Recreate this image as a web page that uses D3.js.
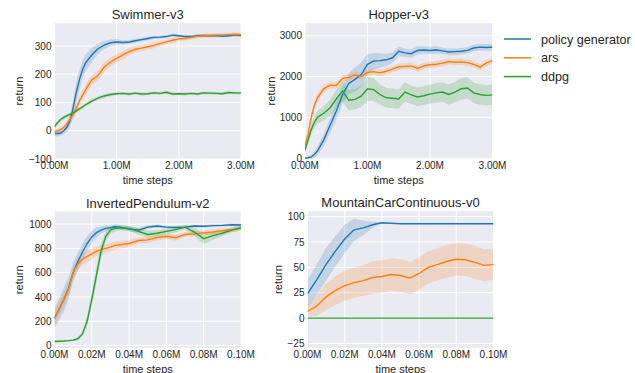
<!DOCTYPE html>
<html>
<head>
<meta charset="utf-8">
<script src="https://cdnjs.cloudflare.com/ajax/libs/d3/7.8.5/d3.min.js"></script>
<style>
  body { margin: 0; background: #fff; }
  svg { display: block; font-family: "Liberation Sans", Arial, sans-serif; }
</style>
</head>
<body>
<div id="chart"></div>
<script>
// series names shared by all panels
var seriesNames = ["policy generator", "ars", "ddpg"];
var seriesColors = ["#1f77b4", "#ff7f0e", "#2ca02c"];

// ---- Swimmer-v3 (x in millions of steps)
var swimX = [0,0.05,0.1,0.15,0.2,0.25,0.3,0.35,0.4,0.45,0.5,0.6,0.7,0.8,0.9,1.0,1.1,1.2,1.3,1.4,1.5,1.6,1.7,1.8,1.9,2.0,2.1,2.2,2.3,2.4,2.5,2.6,2.7,2.8,2.9,3.0];
var swimPG = [-10,-10,-8,0,12,35,80,135,180,215,240,268,290,303,311,314,312,314,318,322,326,330,331,333,338,336,333,333,336,337,336,337,334,336,338,337];
var swimPGsd = [10,10,10,12,15,22,30,35,35,32,30,25,18,14,12,10,8,7,7,6,6,6,5,5,5,5,5,5,5,5,5,5,5,5,5,5];
var swimARS = [-3,0,5,12,25,40,55,80,105,125,145,180,195,225,243,256,268,280,288,292,297,302,308,314,320,325,326,330,334,336,337,338,339,340,341,340];
var swimARSsd = [6,6,7,8,10,12,14,16,18,18,18,18,18,17,16,15,14,13,12,11,10,10,10,9,9,8,8,8,7,7,7,7,7,7,7,7];
var swimDDPG = [15,28,40,47,53,58,63,70,77,84,92,105,115,123,128,131,132,130,133,130,131,134,132,136,130,131,130,132,130,134,133,132,131,135,134,133];
var swimDDPGsd = [8,7,6,6,6,6,6,6,6,6,6,6,6,6,6,5,5,5,5,5,5,5,5,5,5,5,5,5,5,5,5,5,5,5,5,5];
var swimYTicks = [-100, 0, 100, 200, 300];
var swimXTicks = [0, 1, 2, 3];

// ---- Hopper-v3
var hopX = [0,0.05,0.1,0.15,0.2,0.3,0.4,0.5,0.6,0.7,0.8,0.9,1.0,1.1,1.2,1.3,1.4,1.5,1.6,1.7,1.8,1.9,2.0,2.1,2.2,2.3,2.4,2.5,2.6,2.7,2.8,2.9,3.0];
var hopPG = [5,10,30,90,180,450,800,1150,1550,1830,1930,2050,2300,2380,2390,2410,2460,2620,2580,2560,2640,2650,2640,2650,2630,2600,2610,2620,2640,2700,2720,2710,2720];
var hopPGsd = [20,30,50,80,100,150,180,200,220,250,300,300,250,200,180,150,130,120,100,100,100,90,90,90,80,80,80,80,80,80,80,80,80];
var hopARS = [300,600,1000,1300,1480,1700,1790,1780,1950,1980,2040,2000,2100,2120,2090,2130,2180,2240,2250,2260,2200,2260,2290,2300,2330,2370,2350,2360,2340,2300,2230,2330,2390];
var hopARSsd = [60,80,100,100,100,90,80,80,80,80,80,80,80,80,80,80,80,80,80,80,80,80,80,80,80,80,80,80,80,80,80,80,80];
var hopDDPG = [200,450,700,880,1000,1100,1230,1450,1650,1420,1440,1520,1700,1680,1560,1480,1470,1450,1620,1550,1500,1530,1570,1600,1620,1560,1620,1700,1720,1600,1560,1540,1550];
var hopDDPGsd = [80,100,120,140,150,180,200,220,250,250,250,260,300,280,250,240,240,240,240,230,230,230,230,240,240,250,250,260,260,250,250,250,250];
var hopYTicks = [0, 1000, 2000, 3000];
var hopXTicks = [0, 1, 2, 3];

// ---- InvertedPendulum-v2
var penX = [0,0.0025,0.005,0.0075,0.01,0.0125,0.015,0.0175,0.02,0.0225,0.025,0.0275,0.03,0.0325,0.035,0.04,0.045,0.05,0.055,0.06,0.065,0.07,0.075,0.08,0.085,0.09,0.095,0.1];
var penPG = [225,300,380,470,600,690,770,840,895,930,950,965,970,978,975,960,950,975,985,975,972,975,985,982,988,990,995,993];
var penPGsd = [80,90,100,90,80,75,70,60,50,40,30,25,20,20,20,20,20,15,12,12,12,12,10,10,10,10,10,10];
var penARS = [220,300,380,460,600,670,710,735,755,775,790,800,810,825,830,840,865,870,890,900,888,915,920,928,935,945,955,965];
var penARSsd = [60,60,60,55,50,50,50,50,45,40,40,35,35,35,30,30,25,25,25,25,25,20,20,20,20,20,20,20];
var penDDPG = [33,35,37,40,44,55,95,200,380,580,780,900,950,965,970,965,940,915,925,940,955,975,935,880,905,925,950,970];
var penDDPGsd = [5,5,5,5,6,10,20,40,60,70,60,40,30,25,20,20,25,30,25,25,25,20,35,45,35,25,20,20];
var penYTicks = [0, 200, 400, 600, 800, 1000];
var penXTicks = [0, 0.02, 0.04, 0.06, 0.08, 0.1];

// ---- MountainCarContinuous-v0
var carX = [0,0.005,0.01,0.015,0.02,0.025,0.03,0.035,0.04,0.045,0.05,0.055,0.06,0.065,0.07,0.075,0.08,0.085,0.09,0.095,0.1];
var carPG = [24,38,53,66,78,87,89,92,94,93.5,93,93,93,93,93,93,93,93,93,93,93];
var carPGsd = [14,15,16,15,14,11,7,3,0.5,0.3,0.3,0.3,0.3,0.3,0.3,0.3,0.3,0.3,0.3,0.3,0.3];
var carARS = [6.5,12,21,27,32,35,37,40,41,43,42,39.5,44,50,53,56,58,57.5,55,52,53];
var carARSsd = [5,10,13,14,15,15,15,16,16,16,16,16,16,16,16,16,16,16,16,16,15];
var carDDPG = [0,0,0,0,0,0,0,0,0,0,0,0,0,0,0,0,0,0,0,0,0];
var carDDPGsd = [0,0,0,0,0,0,0,0,0,0,0,0,0,0,0,0,0,0,0,0,0];
var carYTicks = [-25, 0, 25, 50, 75, 100];
var carXTicks = [0, 0.02, 0.04, 0.06, 0.08, 0.1];

var svg = d3.select("#chart").append("svg")
    .attr("width", 635)
    .attr("height", 373);

function fmtNum(v) {
  return v < 0 ? "\u2212" + Math.abs(v) : String(v);
}

var clipId = 0;

// draws one subplot: box is the plot area in pixels
function panel(title, box, xs, series, xDomain, yDomain, xTicks, yTicks) {
  var x = d3.scaleLinear().domain(xDomain).range([box.left, box.right]);
  var y = d3.scaleLinear().domain(yDomain).range([box.bottom, box.top]);
  var g = svg.append("g");

  g.append("rect")
      .attr("x", box.left).attr("y", box.top)
      .attr("width", box.right - box.left)
      .attr("height", box.bottom - box.top)
      .attr("fill", "#eaeaf2");

  // grid lines
  g.selectAll(".gx").data(xTicks).enter().append("line")
      .attr("x1", function(d) { return x(d); }).attr("x2", function(d) { return x(d); })
      .attr("y1", box.top).attr("y2", box.bottom)
      .attr("stroke", "#fff").attr("stroke-width", 1);
  g.selectAll(".gy").data(yTicks).enter().append("line")
      .attr("y1", function(d) { return y(d); }).attr("y2", function(d) { return y(d); })
      .attr("x1", box.left).attr("x2", box.right)
      .attr("stroke", "#fff").attr("stroke-width", 1);

  var id = "clip" + (clipId++);
  g.append("clipPath").attr("id", id).append("rect")
      .attr("x", box.left).attr("y", box.top)
      .attr("width", box.right - box.left)
      .attr("height", box.bottom - box.top);
  var plot = g.append("g").attr("clip-path", "url(#" + id + ")");

  series.forEach(function(s, i) {
    var pts = xs.map(function(v, j) { return {x: v, m: s.mean[j], sd: s.sd[j]}; });
    var area = d3.area()
        .x(function(d) { return x(d.x); })
        .y0(function(d) { return y(d.m - d.sd); })
        .y1(function(d) { return y(d.m + d.sd); });
    plot.append("path").datum(pts)
        .attr("d", area)
        .attr("fill", seriesColors[i])
        .attr("fill-opacity", 0.2);
  });
  series.forEach(function(s, i) {
    var pts = xs.map(function(v, j) { return {x: v, m: s.mean[j]}; });
    var line = d3.line()
        .x(function(d) { return x(d.x); })
        .y(function(d) { return y(d.m); });
    plot.append("path").datum(pts)
        .attr("d", line)
        .attr("fill", "none")
        .attr("stroke", seriesColors[i])
        .attr("stroke-width", 1.4);
  });

  // tick labels
  g.selectAll(".tx").data(xTicks).enter().append("text")
      .attr("x", function(d) { return x(d); })
      .attr("y", box.bottom + 10)
      .attr("text-anchor", "middle")
      .attr("font-size", "10px")
      .attr("fill", "#262626")
      .text(function(d) { return d.toFixed(2) + "M"; });
  g.selectAll(".ty").data(yTicks).enter().append("text")
      .attr("x", box.left - 3)
      .attr("y", function(d) { return y(d) + 3.6; })
      .attr("text-anchor", "end")
      .attr("font-size", "10px")
      .attr("fill", "#262626")
      .text(fmtNum);

  g.append("text")
      .attr("x", (box.left + box.right) / 2)
      .attr("y", box.top - 4)
      .attr("text-anchor", "middle")
      .attr("font-size", "13px")
      .attr("fill", "#262626")
      .text(title);
  g.append("text")
      .attr("x", (box.left + box.right) / 2)
      .attr("y", box.bottom + 25)
      .attr("text-anchor", "middle")
      .attr("font-size", "11px")
      .attr("fill", "#262626")
      .text("time steps");
  g.append("text")
      .attr("transform", "translate(" + box.labelX + "," + ((box.top + box.bottom) / 2) + ") rotate(-90)")
      .attr("text-anchor", "middle")
      .attr("font-size", "11px")
      .attr("fill", "#262626")
      .text("return");
}

panel("Swimmer-v3", {left: 54.5, right: 241, top: 23, bottom: 159, labelX: 23},
  swimX,
  [{mean: swimPG, sd: swimPGsd}, {mean: swimARS, sd: swimARSsd}, {mean: swimDDPG, sd: swimDDPGsd}],
  [0, 3], [-100, 381], swimXTicks, swimYTicks);

panel("Hopper-v3", {left: 305, right: 492.5, top: 23, bottom: 159, labelX: 275},
  hopX,
  [{mean: hopPG, sd: hopPGsd}, {mean: hopARS, sd: hopARSsd}, {mean: hopDDPG, sd: hopDDPGsd}],
  [0, 3], [-20, 3312], hopXTicks, hopYTicks);

panel("InvertedPendulum-v2", {left: 54.5, right: 241, top: 211.5, bottom: 348, labelX: 23},
  penX,
  [{mean: penPG, sd: penPGsd}, {mean: penARS, sd: penARSsd}, {mean: penDDPG, sd: penDDPGsd}],
  [0, 0.1], [-21, 1104], penXTicks, penYTicks);

panel("MountainCarContinuous-v0", {left: 307.5, right: 493.5, top: 211, bottom: 348, labelX: 281.5},
  carX,
  [{mean: carPG, sd: carPGsd}, {mean: carARS, sd: carARSsd}, {mean: carDDPG, sd: carDDPGsd}],
  [0, 0.1], [-29.5, 105.6], carXTicks, carYTicks);

// legend
var legend = svg.append("g");
seriesNames.forEach(function(name, i) {
  var ly = 39 + i * 18.8;
  legend.append("line")
      .attr("x1", 504).attr("x2", 531)
      .attr("y1", ly).attr("y2", ly)
      .attr("stroke", seriesColors[i])
      .attr("stroke-width", 1.5);
  legend.append("text")
      .attr("x", 541)
      .attr("y", ly + 4.5)
      .attr("font-size", "12.6px")
      .attr("fill", "#262626")
      .text(name);
});
</script>
</body>
</html>
